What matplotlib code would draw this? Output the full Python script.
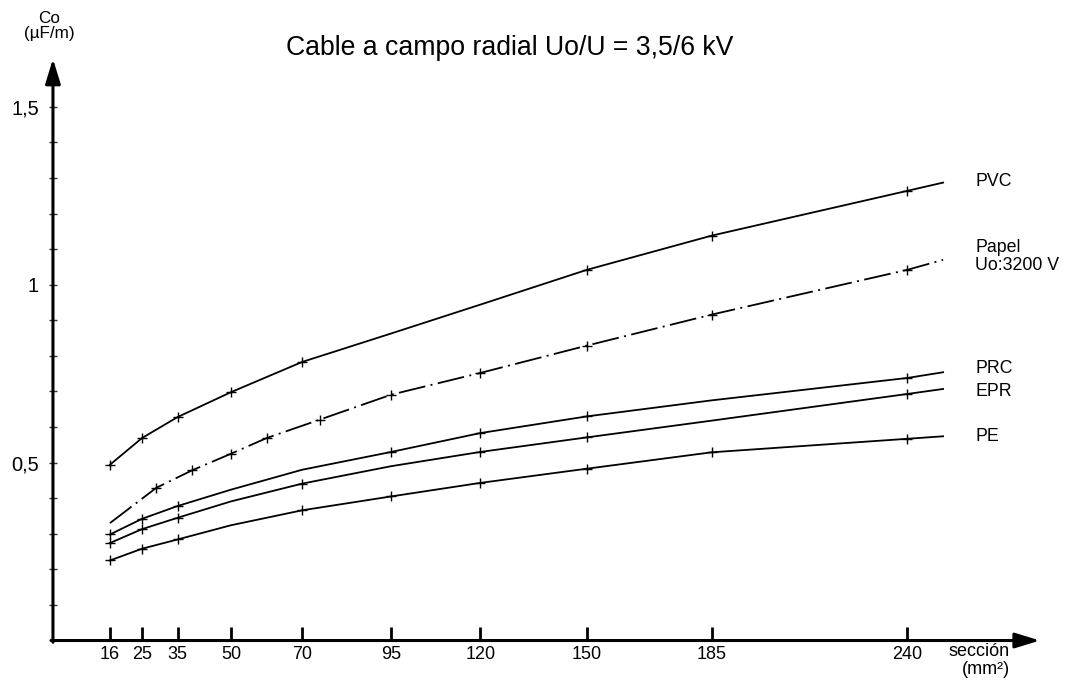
# Cable a campo radial Uo/U = 3,5/6 kV - capacidad Co frente a sección
import numpy as np
import matplotlib
matplotlib.use("Agg")
import matplotlib.pyplot as plt

# datos
secciones = [16, 25, 35, 50, 70, 95, 120, 150, 185, 240]

sec = [16, 25, 35, 50, 70, 95, 120, 150, 185, 240, 250]
c_pvc = [0.494, 0.569, 0.628, 0.698, 0.783, 0.863, 0.944, 1.042, 1.138, 1.264, 1.287]
c_prc = [0.298, 0.342, 0.378, 0.424, 0.480, 0.530, 0.583, 0.630, 0.675, 0.738, 0.754]
c_epr = [0.274, 0.313, 0.345, 0.391, 0.441, 0.490, 0.530, 0.571, 0.618, 0.693, 0.707]
c_pe = [0.225, 0.258, 0.284, 0.324, 0.366, 0.405, 0.443, 0.483, 0.529, 0.567, 0.574]

sec_papel = [16, 29, 39, 50, 60, 75, 95, 120, 150, 185, 240, 250]
c_papel = [0.330, 0.429, 0.478, 0.525, 0.569, 0.621, 0.691, 0.752, 0.829, 0.916, 1.042, 1.070]

# secciones con marca "+"
marcas_pvc = [16, 25, 35, 50, 70, 150, 185, 240]
marcas_prc = [16, 25, 35, 95, 120, 150, 240]
marcas_epr = [16, 25, 35, 70, 120, 150, 240]
marcas_pe = [16, 25, 35, 70, 95, 120, 150, 185, 240]
marcas_papel = [29, 39, 50, 60, 75, 95, 120, 150, 185, 240]

etiquetas = ["PVC", "Papel\nUo:3200 V", "PRC", "EPR", "PE"]
etiq_y = [1.290, 1.079, 0.764, 0.699, 0.573]

yticks = [0.5, 1.0, 1.5]
ytick_labels = ["0,5", "1", "1,5"]

plt.rcParams['font.family'] = ['Liberation Sans', 'DejaVu Sans']

fig = plt.figure(figsize=(10.72, 6.86), dpi=100)
ax = fig.add_axes([0.0494, 0.0663, 0.9207, 0.848])
ax.set_xlim(0, 277.2)
ax.set_ylim(0, 1.635)


def idx(xs, marcas):
    return [i for i, v in enumerate(xs) if v in marcas]


kw = dict(color='black', lw=1.3, marker='+', ms=7, mew=1.0)
ax.plot(sec, c_pvc, markevery=idx(sec, marcas_pvc), **kw)
ax.plot(sec, c_prc, markevery=idx(sec, marcas_prc), **kw)
ax.plot(sec, c_epr, markevery=idx(sec, marcas_epr), **kw)
ax.plot(sec, c_pe, markevery=idx(sec, marcas_pe), **kw)
ax.plot(sec_papel, c_papel, markevery=idx(sec_papel, marcas_papel),
        linestyle=(0, (15, 3, 1.1, 3)), **kw)

for t, y in zip(etiquetas, etiq_y):
    ax.text(259, y, t, fontsize=12.8, va='center', ha='left', linespacing=1.1)

for s in ax.spines.values():
    s.set_visible(False)

# ejes con flecha
arrow = dict(arrowstyle='-|>,head_length=0.75,head_width=0.23', lw=2.2,
             color='black', shrinkA=0, shrinkB=0, mutation_scale=20)
ax.annotate('', xy=(1, 0), xytext=(-0.002, 0), xycoords='axes fraction',
            arrowprops=arrow, annotation_clip=False)
ax.annotate('', xy=(0, 1), xytext=(0, -0.003), xycoords='axes fraction',
            arrowprops=arrow, annotation_clip=False)

ax.set_xticks(secciones)
ax.set_xticklabels([str(s) for s in secciones])
ax.tick_params(axis='x', direction='in', length=10, width=2, pad=4, labelsize=13)

ax.set_yticks(yticks)
ax.set_yticklabels(ytick_labels)
ax.set_yticks([v / 10 for v in range(1, 15) if v % 5], minor=True)
ax.tick_params(axis='y', which='both', direction='inout', length=6, width=1,
               color='#333333', pad=7, labelsize=14.5)

fig.text(0.475, 0.93, "Cable a campo radial Uo/U = 3,5/6 kV", fontsize=19.2,
         ha='center', va='center')
fig.text(0.046, 0.962, "Co\n(\u00b5F/m)", fontsize=12.3, ha='center', va='center',
         linespacing=1.05)
fig.text(0.942, 0.037, "secci\u00f3n\n(mm\u00b2)", fontsize=13, ha='right',
         va='center', multialignment='right', linespacing=1.05)

fig.savefig("out.png", dpi=100)
